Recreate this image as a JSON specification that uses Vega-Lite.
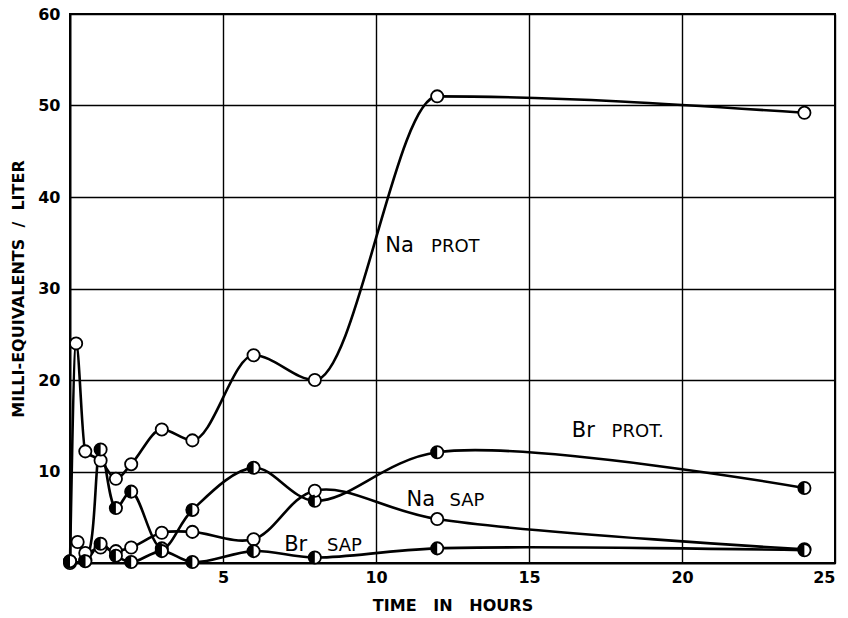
{
  "$schema": "https://vega.github.io/schema/vega-lite/v6.json",
  "width": 765,
  "height": 549,
  "autosize": "none",
  "padding": {"left": 70, "top": 14, "right": 13, "bottom": 55},
  "background": "white",
  "config": {
    "view": {"stroke": "black", "strokeWidth": 2},
    "axis": {
      "grid": true, "gridColor": "black", "gridWidth": 1.4, "gridOpacity": 1,
      "domainColor": "black", "domainWidth": 2, "ticks": false,
      "labelFont": "DejaVu Sans", "labelFontWeight": "bold", "labelFontSize": 16, "labelColor": "black",
      "titleFont": "DejaVu Sans", "titleFontWeight": "bold", "titleFontSize": 16, "titleColor": "black"
    }
  },
  "datasets": {
    "pts": [
      {"series": "Na PROT", "t": 0, "v": 0},
      {"series": "Na PROT", "t": 0.2, "v": 24},
      {"series": "Na PROT", "t": 0.5, "v": 12.2},
      {"series": "Na PROT", "t": 1, "v": 11.2},
      {"series": "Na PROT", "t": 1.5, "v": 9.2},
      {"series": "Na PROT", "t": 2, "v": 10.8},
      {"series": "Na PROT", "t": 3, "v": 14.6},
      {"series": "Na PROT", "t": 4, "v": 13.4},
      {"series": "Na PROT", "t": 6, "v": 22.7},
      {"series": "Na PROT", "t": 8, "v": 20},
      {"series": "Na PROT", "t": 12, "v": 51},
      {"series": "Na PROT", "t": 24, "v": 49.2},
      {"series": "Br PROT", "t": 0, "v": 0.2},
      {"series": "Br PROT", "t": 0.5, "v": 0.3},
      {"series": "Br PROT", "t": 1, "v": 12.4},
      {"series": "Br PROT", "t": 1.5, "v": 6.0},
      {"series": "Br PROT", "t": 2, "v": 7.8},
      {"series": "Br PROT", "t": 3, "v": 1.6},
      {"series": "Br PROT", "t": 4, "v": 5.8},
      {"series": "Br PROT", "t": 6, "v": 10.4},
      {"series": "Br PROT", "t": 8, "v": 6.8},
      {"series": "Br PROT", "t": 12, "v": 12.1},
      {"series": "Br PROT", "t": 24, "v": 8.2},
      {"series": "Na SAP", "t": 0.25, "v": 2.3},
      {"series": "Na SAP", "t": 0.5, "v": 1.1},
      {"series": "Na SAP", "t": 1, "v": 1.7},
      {"series": "Na SAP", "t": 1.5, "v": 1.3},
      {"series": "Na SAP", "t": 2, "v": 1.7},
      {"series": "Na SAP", "t": 3, "v": 3.3},
      {"series": "Na SAP", "t": 4, "v": 3.4},
      {"series": "Na SAP", "t": 6, "v": 2.6},
      {"series": "Na SAP", "t": 8, "v": 7.9},
      {"series": "Na SAP", "t": 12, "v": 4.8},
      {"series": "Na SAP", "t": 24, "v": 1.5},
      {"series": "Br SAP", "t": 0, "v": 0.2},
      {"series": "Br SAP", "t": 0.5, "v": 0.2},
      {"series": "Br SAP", "t": 1, "v": 2.1},
      {"series": "Br SAP", "t": 1.5, "v": 0.8},
      {"series": "Br SAP", "t": 2, "v": 0.1},
      {"series": "Br SAP", "t": 3, "v": 1.3},
      {"series": "Br SAP", "t": 4, "v": 0.1},
      {"series": "Br SAP", "t": 6, "v": 1.3},
      {"series": "Br SAP", "t": 8, "v": 0.6},
      {"series": "Br SAP", "t": 12, "v": 1.6},
      {"series": "Br SAP", "t": 24, "v": 1.4}
    ],
    "elements": [
      {"text": "Na", "t": 10.3, "v": 34.0},
      {"text": "Br", "t": 16.4, "v": 13.8},
      {"text": "Na", "t": 11.0, "v": 6.2},
      {"text": "Br", "t": 7.0, "v": 1.3}
    ],
    "fractions": [
      {"text": "PROT", "t": 11.8, "v": 34.0},
      {"text": "PROT.", "t": 17.7, "v": 13.8},
      {"text": "SAP", "t": 12.4, "v": 6.2},
      {"text": "SAP", "t": 8.4, "v": 1.3}
    ]
  },
  "layer": [
    {
      "data": {"name": "pts"},
      "transform": [{"filter": "datum.series === 'Na PROT'"}],
      "mark": {"type": "line", "interpolate": "monotone", "color": "black", "strokeWidth": 2.6},
      "encoding": {
        "x": {"field": "t", "type": "quantitative", "scale": {"domain": [0, 25], "nice": false},
              "axis": {"values": [5, 10, 15, 20, 25], "title": "TIME\u00a0\u00a0 IN\u00a0\u00a0 HOURS", "titlePadding": 12, "labelPadding": 6}},
        "y": {"field": "v", "type": "quantitative", "scale": {"domain": [0, 60], "nice": false},
              "axis": {"values": [10, 20, 30, 40, 50, 60], "title": "MILLI-EQUIVALENTS\u00a0 /\u00a0 LITER", "titlePadding": 11, "labelPadding": 10}}
      }
    },
    {
      "data": {"name": "pts"},
      "transform": [{"filter": "datum.series !== 'Na PROT'"}],
      "mark": {"type": "line", "interpolate": "catmull-rom", "color": "black", "strokeWidth": 2.6},
      "encoding": {
        "x": {"field": "t", "type": "quantitative"},
        "y": {"field": "v", "type": "quantitative"},
        "detail": {"field": "series"}
      }
    },
    {
      "data": {"name": "pts"},
      "mark": {"type": "point", "shape": "circle", "filled": true, "fill": "white", "stroke": "black", "strokeWidth": 1.8, "size": 150, "opacity": 1},
      "encoding": {
        "x": {"field": "t", "type": "quantitative"},
        "y": {"field": "v", "type": "quantitative"}
      }
    },
    {
      "data": {"name": "pts"},
      "transform": [{"filter": "indexof(datum.series, 'Br') === 0"}],
      "mark": {"type": "point", "shape": "M0,-1 A1,1 0 0,0 0,1 Z", "filled": true, "fill": "black", "strokeWidth": 0, "size": 150, "opacity": 1},
      "encoding": {
        "x": {"field": "t", "type": "quantitative"},
        "y": {"field": "v", "type": "quantitative"}
      }
    },
    {
      "data": {"name": "elements"},
      "mark": {"type": "text", "align": "left", "baseline": "alphabetic", "font": "DejaVu Sans", "fontSize": 21, "color": "black"},
      "encoding": {
        "x": {"field": "t", "type": "quantitative"},
        "y": {"field": "v", "type": "quantitative"},
        "text": {"field": "text"}
      }
    },
    {
      "data": {"name": "fractions"},
      "mark": {"type": "text", "align": "left", "baseline": "alphabetic", "font": "DejaVu Sans", "fontSize": 18, "color": "black"},
      "encoding": {
        "x": {"field": "t", "type": "quantitative"},
        "y": {"field": "v", "type": "quantitative"},
        "text": {"field": "text"}
      }
    }
  ]
}
